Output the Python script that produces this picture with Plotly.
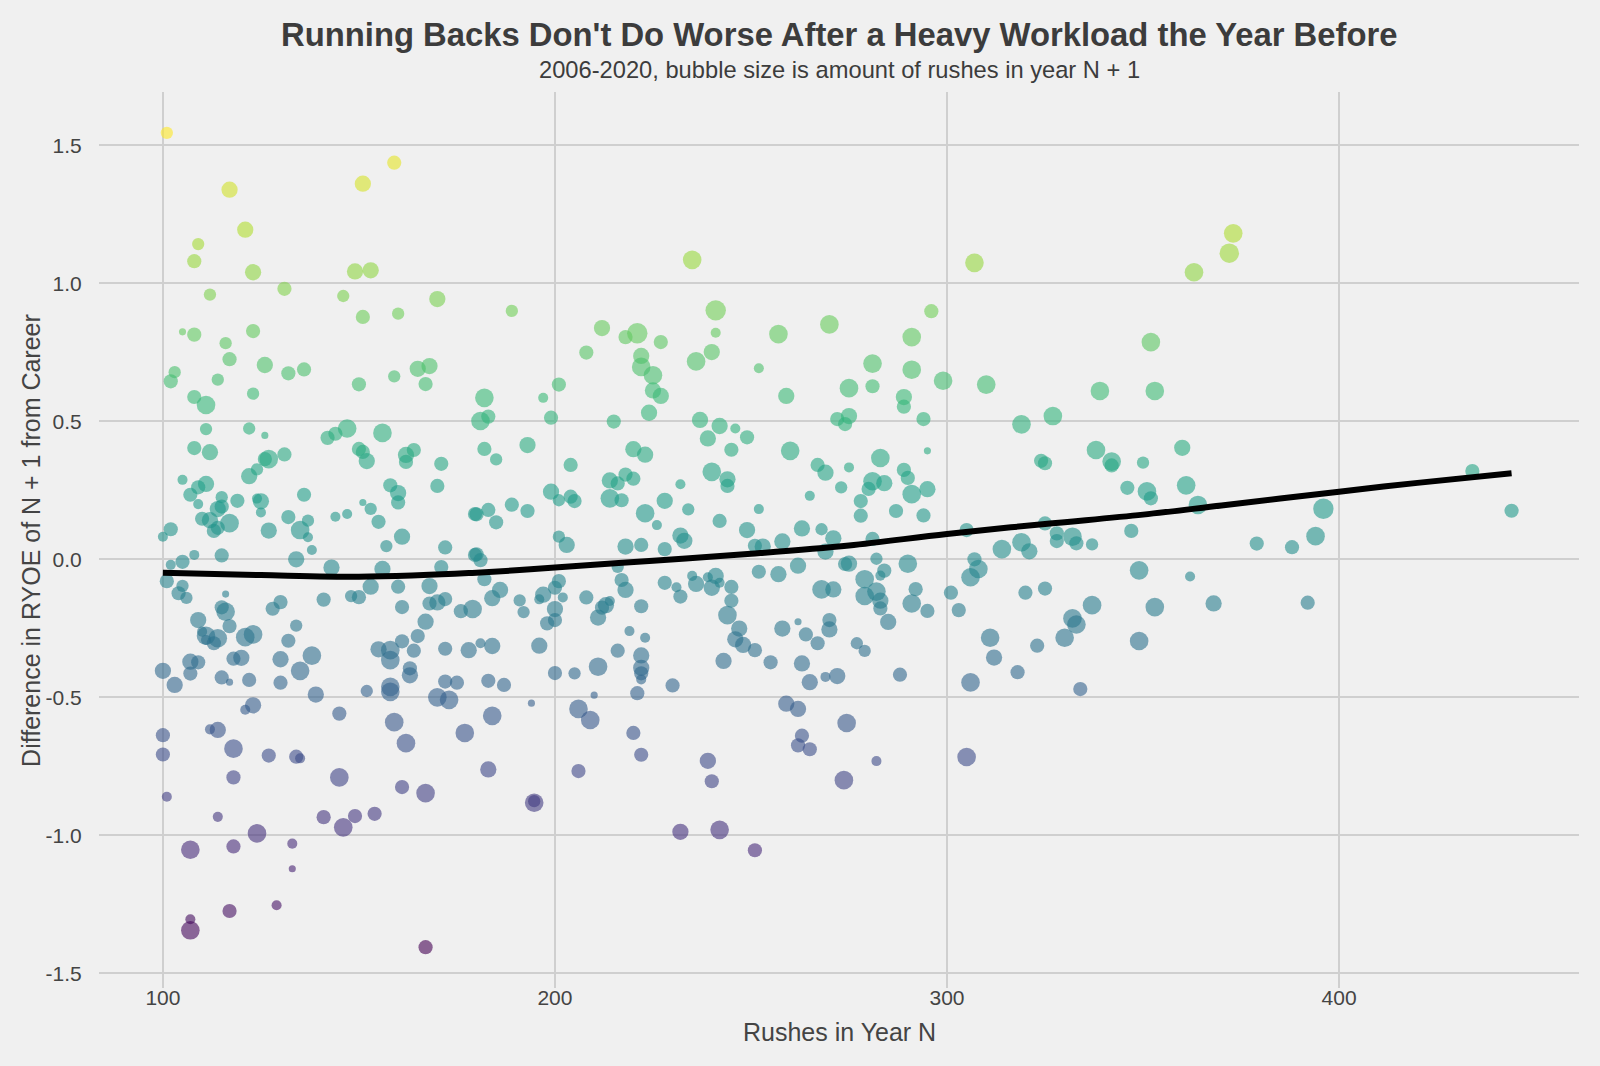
import plotly.graph_objects as go

T, S, SM, M, ML, L, XL = 40, 80, 120, 160, 210, 275, 330

# rushes in year N
rushes_n = [
    101, 159, 151, 117, 121, 109, 108, 123, 149, 153, 235, 307, 363, 373, 372,
    112, 131, 146, 170, 151, 160, 105, 108, 123, 116, 117, 126, 132, 136, 103, 102, 114, 150, 159, 165, 168, 167, 108, 123,
    189, 241, 241, 212, 218, 221, 227, 208, 222, 222, 225, 225, 227, 236, 240, 257, 252, 270, 259, 201, 182, 197,
    296, 291, 281, 291, 281, 275, 299, 310, 352, 339, 353, 289,
    111, 111, 122, 126, 147, 144, 142, 156, 108, 112, 127, 126, 124, 122, 131, 150, 151, 152, 162, 164, 162, 171, 170,
    105, 111, 109, 107, 109, 115, 114, 115, 119, 124, 125, 125, 110, 112, 113, 114, 117, 127, 132, 135, 136, 137, 137,
    138, 144, 147, 151, 153, 155, 158, 160, 160, 161, 157, 172, 171, 179.6, 179.6, 100, 102, 108, 115, 105, 102, 134,
    143, 156, 101, 105, 104, 106, 116, 115, 116, 109, 117, 111, 110, 111, 113, 114, 121, 123, 130, 128, 134, 132, 141,
    148, 150, 153, 160, 168, 161, 170, 172, 168, 167, 165, 176, 179, 178, 172, 164, 161, 158, 158, 155, 163, 163, 158,
    152, 172, 175, 170, 139, 135, 138, 130, 130, 122, 120, 118, 115, 117, 107, 107, 109, 100, 103,
    181, 183, 199, 215, 224, 237, 242, 239, 246, 249, 245, 272, 274, 260, 182, 185, 193, 204, 220, 223, 240, 244, 244,
    232, 267, 269, 275, 273, 265, 214, 218, 220, 216, 214, 217, 228, 199, 204, 205, 201, 180, 183, 185, 189, 193, 223,
    226, 234, 242, 252, 249, 263, 268, 271, 232, 233, 218, 222, 228, 201, 203, 180, 181, 216, 252, 251, 253, 258, 257,
    262, 269, 274, 182, 186, 184, 191, 192, 196, 197, 200, 201, 202, 200, 200, 198, 208, 212, 213, 214, 211, 217, 218,
    222, 228, 231, 232, 235, 236, 239, 241, 240, 242, 245, 245, 244, 247, 246, 248, 251, 219, 223, 222, 222, 222, 222,
    216, 211, 205, 200, 196, 184, 181, 183, 187, 230, 221, 210, 243, 255, 258, 262, 264, 267, 270, 270, 263, 265, 269,
    272, 268, 271,
    289, 275, 294, 319, 327, 283, 289, 290, 295, 281, 284, 280, 291, 295, 278, 278, 287, 294, 281, 305, 325, 338, 342,
    342, 350, 360, 324, 325, 346, 351, 352, 361, 364, 347, 328, 328, 332, 333, 337, 314, 319, 321, 307, 308, 306, 301,
    303, 290, 282, 275, 284, 283, 279, 279, 282, 283, 283, 285, 292, 291, 295, 320, 325, 349, 362, 368, 337, 353, 332,
    333, 330, 311, 312, 323, 318, 306, 334, 349, 277, 279, 288,
    396, 394, 388, 379, 434, 444, 392,
    100, 100, 101, 112, 114, 118, 123, 121, 127, 118, 114, 107, 118, 124, 133, 133, 134, 135, 145, 158, 159, 162, 173,
    177, 145, 161, 167, 141, 146, 149, 154, 107, 107, 117, 129, 167,
    184, 194, 206, 209, 220, 222, 206, 183, 194.7, 194.7, 239, 240, 232, 242, 251, 259, 262, 263, 262, 265, 274.4, 273.7,
    282, 305,
]

# difference in RYOE of year N + 1 from career
ryoe_diff = [
    1.545, 1.437, 1.361, 1.339, 1.194, 1.142, 1.08, 1.04, 1.043, 1.047, 1.085, 1.074, 1.04, 1.181, 1.109,
    0.959, 0.98, 0.954, 0.943, 0.878, 0.89, 0.824, 0.814, 0.827, 0.783, 0.725, 0.704, 0.674, 0.688, 0.678, 0.645, 0.651, 0.634, 0.663, 0.69, 0.70, 0.635, 0.588, 0.6,
    0.90, 0.902, 0.821, 0.838, 0.805, 0.819, 0.787, 0.749, 0.737, 0.697, 0.667, 0.612, 0.592, 0.717, 0.751, 0.816, 0.692, 0.851, 0.592, 0.633, 0.585, 0.585,
    0.899, 0.805, 0.709, 0.687, 0.627, 0.62, 0.647, 0.633, 0.787, 0.61, 0.61, 0.588,
    0.559, 0.472, 0.474, 0.449, 0.474, 0.455, 0.44, 0.458, 0.403, 0.388, 0.363, 0.363, 0.326, 0.301, 0.38, 0.40, 0.389, 0.356, 0.378, 0.396, 0.353, 0.346, 0.266,
    0.288, 0.273, 0.261, 0.234, 0.2, 0.225, 0.182, 0.191, 0.212, 0.22, 0.21, 0.17, 0.147, 0.142, 0.103, 0.114, 0.131, 0.104, 0.153, 0.106, 0.234, 0.14, 0.08,
    0.034, 0.154, 0.164, 0.206, 0.183, 0.136, 0.268, 0.24, 0.206, 0.082, 0.048, 0.043, -0.028, 0.164, 0.016, 0.082, 0.109, 0.016, 0.014, -0.009, -0.02, 0.0,
    -0.03, -0.035, -0.079, -0.096, -0.123, -0.14, -0.126, -0.174, -0.19, -0.22, -0.242, -0.277, -0.262, -0.292, -0.304, -0.286, -0.282, -0.272, -0.155, -0.179, -0.24, -0.295, -0.146,
    -0.133, -0.137, -0.099, -0.099, -0.097, -0.173, -0.156, -0.144, -0.16, -0.226, -0.278, -0.188, -0.18, -0.329, -0.324, -0.331, -0.297, -0.329, -0.365, -0.326, -0.395, -0.42, -0.462,
    -0.477, -0.443, -0.447, -0.5, -0.49, -0.404, -0.349, -0.362, -0.447, -0.437, -0.357, -0.36, -0.428, -0.445, -0.414, -0.371, -0.373, -0.404, -0.455,
    0.501, 0.517, 0.513, 0.499, 0.531, 0.505, 0.483, 0.438, 0.474, 0.442, 0.397, 0.508, 0.49, 0.393, 0.40, 0.362, 0.414, 0.342, 0.399, 0.379, 0.317, 0.29, 0.266,
    0.272, 0.342, 0.314, 0.333, 0.261, 0.23, 0.286, 0.307, 0.292, 0.275, 0.221, 0.214, 0.212, 0.245, 0.227, 0.211, 0.214, 0.163, 0.179, 0.134, 0.198, 0.175, 0.167,
    0.124, 0.181, 0.139, 0.182, 0.106, 0.112, 0.109, 0.076, 0.086, 0.067, 0.046, 0.052, 0.037, 0.082, 0.052, 0.018, -0.003, -0.027, -0.045, 0.049, 0.046, 0.065, -0.054,
    -0.023, 0.028, -0.017, -0.072, -0.111, -0.141, -0.149, -0.191, -0.145, -0.128, -0.103, -0.079, -0.138, -0.18, -0.22, -0.232, -0.138, -0.175, -0.166, -0.151, -0.211, -0.075, -0.111,
    -0.17, -0.085, -0.101, -0.135, -0.06, -0.089, -0.065, -0.06, -0.103, -0.085, -0.1, -0.15, -0.202, -0.251, -0.29, -0.31, -0.329, -0.26, -0.284, -0.348, -0.393, -0.413, -0.435,
    -0.331, -0.389, -0.413, -0.412, -0.313, -0.314, -0.304, -0.44, -0.455, -0.457, -0.485, -0.492, -0.368, -0.373, -0.251, -0.226, -0.272, -0.304, -0.22, -0.254, -0.377, -0.445, -0.426,
    -0.423, -0.109, -0.109,
    0.553, 0.519, 0.508, 0.489, 0.519, 0.367, 0.324, 0.295, 0.393, 0.283, 0.276, 0.255, 0.236, 0.254, 0.211, 0.158, 0.175, 0.159, 0.074, 0.106, 0.13, 0.396, 0.354,
    0.34, 0.35, 0.404, 0.357, 0.348, 0.259, 0.246, 0.221, 0.268, 0.197, 0.103, 0.094, 0.066, 0.082, 0.058, 0.054, 0.037, 0.062, 0.029, 0.0, -0.035, -0.065, -0.121,
    -0.184, -0.016, 0.002, -0.016, -0.041, -0.059, -0.072, -0.133, -0.117, -0.15, -0.178, -0.227, -0.108, -0.16, -0.187, -0.121, -0.106, -0.04, -0.062, -0.16, -0.166, -0.173, -0.214,
    -0.236, -0.284, -0.284, -0.356, -0.313, -0.409, -0.446, -0.47, -0.296, -0.304, -0.332, -0.418,
    0.183, 0.084, 0.044, 0.057, 0.32, 0.176, -0.157,
    -0.637, -0.707, -0.86, -0.616, -0.618, -0.686, -0.529, -0.545, -0.711, -0.79, -0.933, -1.052, -1.04, -0.993, -1.03, -1.121, -0.715, -0.721, -0.559, -0.48, -0.59, -0.666, -0.509,
    -0.629, -0.79, -0.825, -0.847, -0.934, -0.971, -0.93, -0.922, -1.304, -1.344, -1.274, -1.253, -1.405,
    -0.567, -0.521, -0.542, -0.582, -0.629, -0.708, -0.767, -0.761, -0.882, -0.876, -0.73, -0.804, -0.987, -0.98, -1.054, -0.523, -0.542, -0.639, -0.674, -0.688, -0.593, -0.8,
    -0.731, -0.716,
]

# rushes in year N + 1 (bubble size)
rushes_next = [
    SM, M, ML, ML, ML, SM, M, ML, ML, ML, L, L, L, L, 300,
    SM, M, SM, ML, M, SM, T, M, M, SM, M, ML, M, M, SM, M, SM, M, SM, ML, ML, M, M, SM,
    SM, XL, S, ML, M, XL, M, M, ML, L, L, ML, ML, L, ML, L, S, L, ML, M, L, S,
    M, L, L, L, M, L, L, L, L, L, L, ML,
    L, SM, SM, T, L, M, M, L, M, ML, L, M, SM, ML, M, M, M, ML, ML, M, M, M, M,
    S, ML, M, M, S, SM, ML, M, M, S, ML, S, M, ML, M, M, L, ML, M, L, M, SM, S,
    S, S, S, T, SM, M, M, ML, M, ML, SM, M, M, M, M, S, M, S, M, M, S, ML,
    ML, ML, M, SM, M, SM, T, M, L, ML, M, L, S, S, M, L, L, L, M, M, SM, M, M,
    SM, M, ML, M, ML, M, ML, M, M, ML, M, M, L, ML, M, M, M, L, L, ML, M, ML, L,
    SM, M, M, L, ML, L, L, ML, M, M, ML, M, M, T, M, ML, M, ML, ML,
    L, M, M, M, ML, ML, ML, ML, S, M, M, M, M, L, M, SM, ML, M, ML, ML, L, ML, M,
    S, M, ML, S, SM, S, ML, M, M, M, L, M, ML, ML, M, M, SM, M, M, M, M, M, L,
    S, SM, M, S, ML, ML, SM, ML, ML, ML, ML, M, M, SM, ML, M, M, SM, M, M, ML, ML, ML,
    ML, ML, M, M, ML, ML, SM, SM, S, ML, M, M, S, ML, M, M, M, M, ML, S, ML, M, ML,
    M, M, S, M, S, ML, S, ML, ML, S, M, M, L, ML, ML, ML, M, S, S, ML, ML, M, S,
    M, L, SM, M, ML, ML, S, M, M, M, M, T, ML, M, ML, T, M, M, M, ML, ML, ML, S,
    ML, L, ML,
    M, ML, M, L, L, L, M, M, T, L, ML, M, L, ML, M, M, M, M, M, M, M, L, L,
    M, SM, ML, M, M, M, L, M, L, L, M, M, M, L, M, SM, L, L, ML, M, L, L, M,
    M, L, SM, ML, M, S, L, L, L, ML, M, ML, M, L, M, M, M, L, S, ML, L, L, L,
    L, L, L, ML, M, M, L, M, L, SM, SM, M,
    XL, L, M, M, M, M, M,
    M, M, S, S, ML, L, ML, S, M, M, S, L, M, L, S, T, M, S, M, L, L, L, L,
    L, L, M, L, M, L, M, M, S, L, M, S, M,
    L, T, L, L, M, M, M, ML, L, SM, ML, M, ML, L, M, ML, ML, M, M, M, L, L,
    S, L,
]

# smoothed trend line
trend_x = [100, 125, 150, 165, 178, 190, 200, 225, 250, 275, 300, 325, 350, 370, 400, 420, 444]
trend_y = [-0.049, -0.057, -0.063, -0.058, -0.050, -0.040, -0.030, -0.005, 0.020, 0.050, 0.092,
           0.128, 0.162, 0.195, 0.245, 0.277, 0.312]

y_ticks = [-1.5, -1.0, -0.5, 0.0, 0.5, 1.0, 1.5]
y_tick_text = ["-1.5", "-1.0", "-0.5", "0.0", "0.5", "1.0", "1.5"]
x_ticks = [100, 200, 300, 400]
x_tick_text = ["100", "200", "300", "400"]

n = min(len(rushes_n), len(ryoe_diff), len(rushes_next))
rushes_n, ryoe_diff, rushes_next = rushes_n[:n], ryoe_diff[:n], rushes_next[:n]

FONT = "Liberation Sans, Arial, Helvetica, sans-serif"
BG = "#f0f0f0"
GRID = "#cfcfcf"

fig = go.Figure()
fig.add_trace(go.Scatter(
    x=rushes_n, y=ryoe_diff, mode="markers",
    marker=dict(
        size=rushes_next, sizemode="area", sizeref=2 * 350 / (21 ** 2),
        color=ryoe_diff, colorscale="Viridis", opacity=0.6,
        line=dict(width=0),
    ),
    showlegend=False, hoverinfo="x+y",
))
fig.add_trace(go.Scatter(
    x=trend_x, y=trend_y, mode="lines", line=dict(color="black", width=6, shape="spline"),
    showlegend=False, hoverinfo="skip",
))

fig.update_layout(
    width=1600, height=1066,
    paper_bgcolor=BG, plot_bgcolor=BG,
    margin=dict(l=99, r=21, t=92, b=78),
    font=dict(family=FONT, color="#444444"),
    xaxis=dict(
        range=[83.7, 461.2], tickvals=x_ticks, ticktext=x_tick_text,
        showgrid=True, gridcolor=GRID, gridwidth=1.5, zeroline=False, showline=False,
        tickfont=dict(size=21, color="#444444"), ticks="", ticklabelstandoff=-5,
    ),
    yaxis=dict(
        range=[-1.553, 1.693], tickvals=y_ticks, ticktext=y_tick_text,
        showgrid=True, gridcolor=GRID, gridwidth=1.5, zeroline=False, showline=False,
        tickfont=dict(size=21, color="#444444"), ticks="outside", ticklen=12,
        tickcolor="rgba(0,0,0,0)",
    ),
    annotations=[
        dict(text="<b>Running Backs Don't Do Worse After a Heavy Workload the Year Before</b>",
             xref="paper", yref="paper", x=0.5, y=1.0647, xanchor="center", yanchor="middle",
             showarrow=False, font=dict(size=32.8, color="#3c3c3c", family=FONT)),
        dict(text="2006-2020, bubble size is amount of rushes in year N + 1",
             xref="paper", yref="paper", x=0.5, y=1.0246, xanchor="center", yanchor="middle",
             showarrow=False, font=dict(size=23.7, color="#3c3c3c", family=FONT)),
        dict(text="Rushes in Year N",
             xref="paper", yref="paper", x=0.5, y=-0.0491, xanchor="center", yanchor="middle",
             showarrow=False, font=dict(size=25, color="#444444", family=FONT)),
        dict(text="Difference in RYOE of N + 1 from Career", textangle=-90,
             xref="paper", yref="paper", x=-0.046, y=0.5, xanchor="center", yanchor="middle",
             showarrow=False, font=dict(size=25, color="#444444", family=FONT)),
    ],
)

fig.write_html(
    "out.html",
    config={"displayModeBar": False},
    post_script="document.body.style.margin='0';document.body.style.padding='0';"
                "document.body.style.background='#f0f0f0';document.body.style.overflow='hidden';",
)
